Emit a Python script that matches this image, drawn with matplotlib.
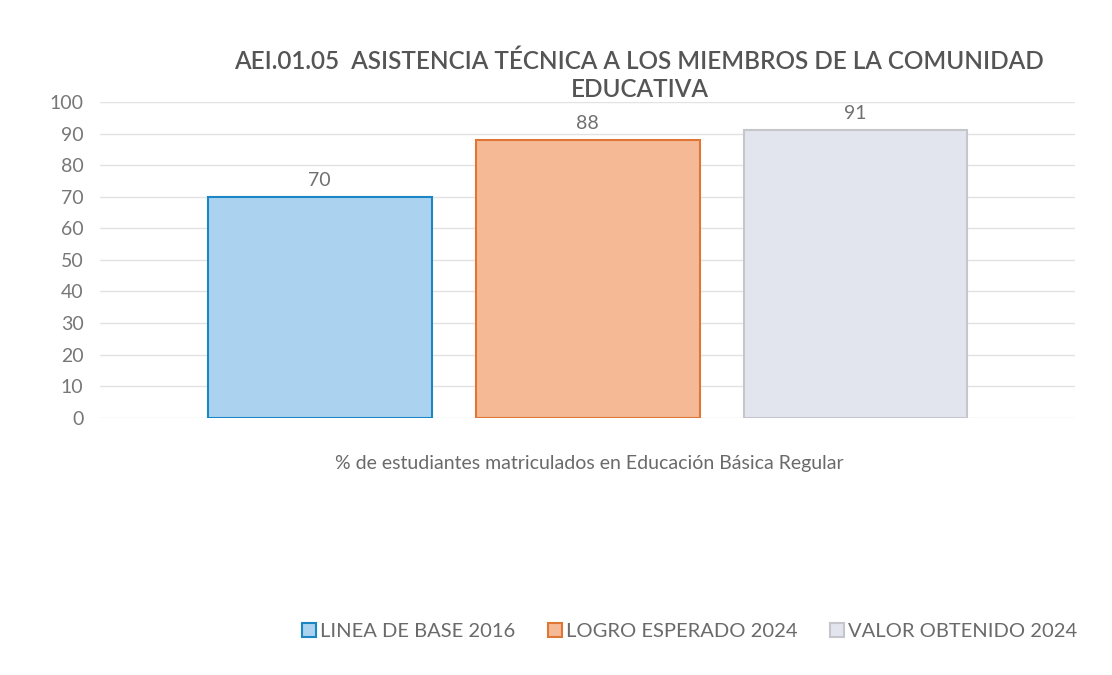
import matplotlib.pyplot as plt

plt.rcParams['font.family'] = ['Lato', 'DejaVu Sans']

series = ['LINEA DE BASE 2016', 'LOGRO ESPERADO 2024', 'VALOR OBTENIDO 2024']
values = [70, 88, 91]
category = '% de estudiantes matriculados en Educación Básica Regular'
title = 'AEI.01.05  ASISTENCIA TÉCNICA A LOS MIEMBROS DE LA COMUNIDAD\nEDUCATIVA'

fills = ['#abd3f0', '#f5b996', '#e3e5ee']
edges = ['#1b86c4', '#e07636', '#c4c6cc']

fig = plt.figure(figsize=(11.12, 6.75), dpi=100)
ax = fig.add_axes([0.09, 0.381, 0.877, 0.468])

pos = [-1, 0, 1]
for i in range(3):
    ax.bar(pos[i], values[i], width=0.835, color=fills[i], edgecolor=edges[i],
           linewidth=1.5, label=series[i], zorder=3)
    ax.text(pos[i], values[i] + 2.5, str(values[i]), ha='center', va='bottom',
            fontsize=14, color='#707070')

ax.set_xlim(-1.82, 1.82)
ax.set_ylim(0, 100)
ax.set_yticks(range(0, 101, 10))
ax.set_xticks([])
ax.grid(axis='y', color='#e2e2e2', linewidth=1, zorder=0)
for s in ax.spines.values():
    s.set_visible(False)
ax.tick_params(axis='y', length=0, labelsize=14, labelcolor='#777777', pad=12)

fig.text(0.575, 0.888, title, ha='center', va='center', fontsize=17.5,
         color='#555555', linespacing=1.25, fontweight='semibold')
fig.text(0.53, 0.313, category, ha='center', va='center', fontsize=14,
         color='#6a6a6a')

fig.legend(loc='center', bbox_to_anchor=(0.62, 0.064), ncol=3, frameon=False,
           fontsize=14.5, labelcolor='#6a6a6a', handlelength=0.7,
           handleheight=0.7, handletextpad=0.2, columnspacing=1.6)

fig.savefig('out.png', dpi=100)
